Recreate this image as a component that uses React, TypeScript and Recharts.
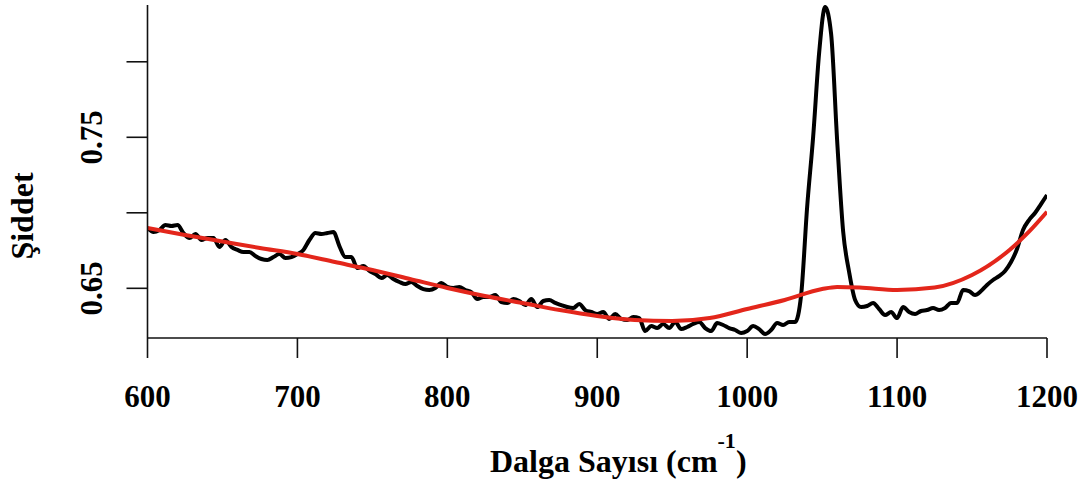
import React from 'react';
import { LineChart, Line, XAxis, YAxis } from 'recharts';

// Raman spectrum: wavenumber (cm-1) and measured intensity
const wavenumbers = [
  600, 604, 608, 612, 616, 620, 624, 628, 632, 636,
  640, 644, 648, 652, 656, 660, 664, 668, 672, 676,
  680, 684, 688, 692, 696, 700, 704, 708, 712, 716,
  720, 724, 728, 732, 736, 740, 744, 748, 752, 756,
  760, 764, 768, 772, 776, 780, 784, 788, 792, 796,
  800, 804, 808, 812, 816, 820, 824, 828, 832, 836,
  840, 844, 848, 852, 856, 860, 864, 868, 872, 876,
  880, 884, 888, 892, 896, 900, 904, 908, 912, 916,
  920, 924, 928, 932, 936, 940, 944, 948, 952, 956,
  960, 964, 968, 972, 976, 980, 984, 988, 992, 996,
  1000, 1004, 1008, 1012, 1016, 1020, 1024, 1028, 1032, 1036,
  1040, 1044, 1048, 1052, 1056, 1060, 1064, 1068, 1072, 1076,
  1080, 1084, 1088, 1092, 1096, 1100, 1104, 1108, 1112, 1116,
  1120, 1124, 1128, 1132, 1136, 1140, 1144, 1148, 1152, 1156,
  1160, 1164, 1168, 1172, 1176, 1180, 1184, 1188, 1192, 1196,
  1200,
];

const intensity = [
  0.6899, 0.6873, 0.6886, 0.6919, 0.6913, 0.6919, 0.6866, 0.6833, 0.6860, 0.6820,
  0.6833, 0.6833, 0.6774, 0.6820, 0.6774, 0.6754, 0.6740, 0.6740, 0.6714, 0.6694,
  0.6687, 0.6707, 0.6727, 0.6701, 0.6707, 0.6727, 0.6754, 0.6820, 0.6866, 0.6860,
  0.6866, 0.6873, 0.6780, 0.6707, 0.6707, 0.6634, 0.6648, 0.6615, 0.6595, 0.6568,
  0.6588, 0.6562, 0.6542, 0.6528, 0.6542, 0.6515, 0.6495, 0.6489, 0.6502, 0.6535,
  0.6509, 0.6502, 0.6509, 0.6489, 0.6475, 0.6429, 0.6442, 0.6442, 0.6456, 0.6409,
  0.6403, 0.6429, 0.6416, 0.6389, 0.6429, 0.6376, 0.6416, 0.6423, 0.6403, 0.6389,
  0.6376, 0.6370, 0.6396, 0.6356, 0.6343, 0.6330, 0.6343, 0.6297, 0.6330, 0.6297,
  0.6290, 0.6310, 0.6303, 0.6217, 0.6250, 0.6237, 0.6264, 0.6237, 0.6277, 0.6230,
  0.6244, 0.6264, 0.6277, 0.6237, 0.6217, 0.6270, 0.6257, 0.6237, 0.6224, 0.6204,
  0.6217, 0.6250, 0.6230, 0.6197, 0.6224, 0.6270, 0.6257, 0.6277, 0.6277, 0.6456,
  0.7038, 0.7502, 0.8058, 0.8363, 0.8184, 0.7482, 0.6879, 0.6608, 0.6423, 0.6376,
  0.6383, 0.6403, 0.6363, 0.6323, 0.6343, 0.6303, 0.6376, 0.6343, 0.6330, 0.6350,
  0.6356, 0.6370, 0.6356, 0.6370, 0.6403, 0.6403, 0.6489, 0.6482, 0.6456, 0.6482,
  0.6522, 0.6555, 0.6581, 0.6615, 0.6674, 0.6760, 0.6886, 0.6952, 0.6999, 0.7058,
  0.7118,
];

// Smooth baseline fitted under the spectrum
const baselineWavenumbers = [
  600, 625, 650, 675, 700, 725, 750, 775, 800, 825,
  850, 875, 900, 925, 950, 975, 1000, 1025, 1050, 1060,
  1075, 1100, 1125, 1150, 1175, 1188, 1200,
];
const baselineValues = [
  0.6899, 0.6853, 0.6810, 0.6767, 0.6727, 0.6674, 0.6621, 0.6562, 0.6502, 0.6449,
  0.6403, 0.6356, 0.6317, 0.6290, 0.6283, 0.6303, 0.6363, 0.6423, 0.6495, 0.6509,
  0.6505, 0.6489, 0.6505, 0.6588, 0.6754, 0.6875, 0.7007,
];

const xTicks = [600, 700, 800, 900, 1000, 1100, 1200];
const yTicks = [0.65, 0.7, 0.75, 0.8];
const yLabelled = [0.65, 0.75];

const spectrum = wavenumbers.map((x, i) => ({ x, y: intensity[i] }));
const baseline = baselineWavenumbers.map((x, i) => ({ x, y: baselineValues[i] }));

const FONT = '"Liberation Serif", "Times New Roman", serif';
const AXIS = '#111';

const XTick = (props: any) => {
  const { x, y, payload } = props;
  return (
    <text x={x} y={y + 47} textAnchor="middle" fontFamily={FONT} fontWeight="bold" fontSize={31} fill="#000">
      {payload.value}
    </text>
  );
};

const YTick = (props: any) => {
  const { x, y, payload } = props;
  const v = payload.value;
  if (!yLabelled.some((t) => Math.abs(t - v) < 1e-9)) return <g />;
  const bx = x - 22;
  return (
    <text
      x={bx}
      y={y}
      transform={`rotate(-90, ${bx}, ${y})`}
      textAnchor="middle"
      fontFamily={FONT}
      fontWeight="bold"
      fontSize={31}
      fill="#000"
    >
      {v.toFixed(2)}
    </text>
  );
};

const XTitle = () => (
  <text x={490} y={472} textAnchor="start" fontFamily={FONT} fontWeight="bold" fontSize={32} fill="#000">
    <tspan>Dalga Sayısı (cm</tspan>
    <tspan fontSize={22} dy={-24}>-1</tspan>
    <tspan dy={24}>)</tspan>
  </text>
);

const YTitle = () => (
  <text
    x={33}
    y={216}
    transform="rotate(-90, 33, 216)"
    textAnchor="middle"
    fontFamily={FONT}
    fontWeight="bold"
    fontSize={32}
    fill="#000"
  >
    Şiddet
  </text>
);

export default function App() {
  return (
    <div style={{ position: 'absolute', left: 0, top: 0, width: 1089, height: 484, background: '#fff' }}>
      <LineChart width={1089} height={484} margin={{ top: 5, right: 42, bottom: 6, left: 7.5 }}>
        <XAxis
          type="number"
          dataKey="x"
          domain={[600, 1200]}
          ticks={xTicks}
          interval={0}
          allowDataOverflow
          height={140}
          tickSize={20}
          axisLine={{ stroke: AXIS, strokeWidth: 1.6 }}
          tickLine={{ stroke: AXIS, strokeWidth: 1.6 }}
          tick={<XTick />}
          label={<XTitle />}
        />
        <YAxis
          type="number"
          dataKey="y"
          domain={[0.6171, 0.8376]}
          ticks={yTicks}
          interval={0}
          allowDataOverflow
          width={140}
          tickSize={21}
          axisLine={{ stroke: AXIS, strokeWidth: 1.6 }}
          tickLine={{ stroke: AXIS, strokeWidth: 1.6 }}
          tick={<YTick />}
          label={<YTitle />}
        />
        <Line
          data={spectrum}
          dataKey="y"
          type="monotone"
          stroke="#000"
          strokeWidth={4}
          strokeLinejoin="round"
          dot={false}
          activeDot={false}
          isAnimationActive={false}
        />
        <Line
          data={baseline}
          dataKey="y"
          type="monotone"
          stroke="#e3261b"
          strokeWidth={4}
          dot={false}
          activeDot={false}
          isAnimationActive={false}
        />
      </LineChart>
    </div>
  );
}
